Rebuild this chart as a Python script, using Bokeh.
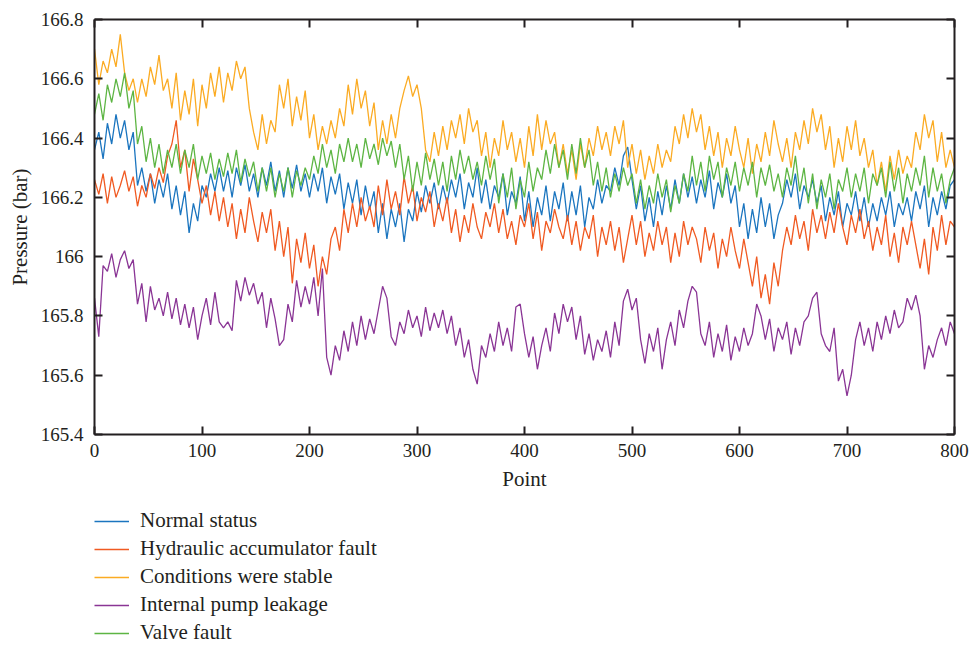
from bokeh.plotting import figure
from bokeh.layouts import column
from bokeh.models import FixedTicker, LinearAxis, Legend, LegendItem, Range1d
from bokeh.embed import file_html
from bokeh.resources import INLINE

x_points = list(range(0, 801, 4))

normal_status = [
    166.36, 166.42, 166.33, 166.45, 166.38, 166.48, 166.40, 166.46, 166.36, 166.42,
    166.24, 166.30, 166.22, 166.28, 166.18, 166.26, 166.20, 166.28, 166.16, 166.24,
    166.14, 166.22, 166.08, 166.18, 166.12, 166.24, 166.20, 166.28, 166.22, 166.30,
    166.22, 166.29, 166.20, 166.30, 166.24, 166.31, 166.22, 166.28, 166.20, 166.30,
    166.24, 166.32, 166.22, 166.29, 166.20, 166.30, 166.23, 166.31, 166.22, 166.28,
    166.20, 166.28, 166.22, 166.30, 166.18, 166.27, 166.21, 166.28, 166.16, 166.25,
    166.18, 166.26, 166.14, 166.24, 166.16, 166.22, 166.08, 166.18, 166.06, 166.16,
    166.10, 166.18, 166.05, 166.16, 166.12, 166.22, 166.15, 166.24, 166.18, 166.25,
    166.16, 166.24, 166.18, 166.26, 166.20, 166.28, 166.16, 166.25, 166.20, 166.30,
    166.18, 166.26, 166.16, 166.24, 166.20, 166.28, 166.14, 166.22, 166.18, 166.27,
    166.12, 166.22, 166.10, 166.20, 166.14, 166.24, 166.12, 166.22, 166.16, 166.25,
    166.12, 166.22, 166.14, 166.24, 166.10, 166.20, 166.16, 166.26, 166.18, 166.24,
    166.22, 166.30, 166.24, 166.34, 166.37, 166.26, 166.16, 166.24, 166.12, 166.20,
    166.10, 166.22, 166.14, 166.24, 166.16, 166.26, 166.18, 166.28, 166.20, 166.27,
    166.18, 166.26, 166.20, 166.29, 166.16, 166.25, 166.20, 166.28, 166.18, 166.24,
    166.10, 166.18, 166.06, 166.16, 166.08, 166.20, 166.10, 166.18, 166.06, 166.14,
    166.18, 166.26, 166.20, 166.28, 166.16, 166.24, 166.20, 166.26, 166.18, 166.24,
    166.12, 166.20, 166.14, 166.22, 166.10, 166.18, 166.14, 166.22, 166.12, 166.20,
    166.10, 166.18, 166.12, 166.20, 166.14, 166.22, 166.10, 166.18, 166.14, 166.20,
    166.12, 166.22, 166.16, 166.24, 166.10, 166.20, 166.14, 166.22, 166.16, 166.24,
    166.26,
]

hydraulic_accumulator_fault = [
    166.26, 166.21, 166.28, 166.18, 166.27, 166.20, 166.24, 166.29, 166.22, 166.27,
    166.17, 166.24, 166.20, 166.28, 166.23, 166.30, 166.25, 166.34, 166.38, 166.46,
    166.30, 166.36, 166.22, 166.33, 166.26, 166.18, 166.24, 166.14, 166.22, 166.12,
    166.20, 166.10, 166.18, 166.06, 166.16, 166.08, 166.20, 166.12, 166.05, 166.15,
    166.08, 166.16, 166.02, 166.12, 166.00, 166.10, 165.91, 166.06, 165.98, 166.08,
    165.96, 166.04, 165.90, 166.00, 165.94, 166.06, 166.10, 166.02, 166.16, 166.08,
    166.18, 166.10, 166.20, 166.12, 166.17, 166.10, 166.24, 166.14, 166.26, 166.16,
    166.22, 166.14, 166.27, 166.18, 166.24, 166.12, 166.20, 166.15, 166.22, 166.10,
    166.18, 166.12, 166.20, 166.08, 166.16, 166.05, 166.14, 166.08, 166.18, 166.10,
    166.06, 166.15, 166.10, 166.18, 166.08, 166.16, 166.06, 166.12, 166.04, 166.14,
    166.10, 166.18, 166.06, 166.15, 166.02, 166.12, 166.08, 166.16, 166.10, 166.06,
    166.14, 166.04, 166.12, 166.02, 166.10, 166.06, 166.14, 166.00, 166.10, 166.04,
    166.12, 166.02, 166.10, 165.98, 166.06, 166.14, 166.04, 166.12, 166.00, 166.08,
    166.02, 166.12, 166.04, 166.10, 165.98, 166.08, 166.00, 166.12, 166.04, 166.10,
    166.06, 165.98, 166.10, 166.02, 166.08, 165.96, 166.06, 166.00, 166.10, 166.02,
    165.96, 166.06, 165.98, 165.90, 166.00, 165.86, 165.94, 165.84, 165.98, 165.90,
    166.02, 166.10, 166.04, 166.14, 166.06, 166.12, 166.02, 166.16, 166.08, 166.14,
    166.06, 166.15, 166.08, 166.18, 166.10, 166.04, 166.14, 166.08, 166.16, 166.06,
    166.12, 166.02, 166.10, 166.04, 166.14, 166.00, 166.08, 165.98, 166.10, 166.04,
    166.12, 166.04, 165.96, 166.06, 165.94, 166.10, 166.02, 166.14, 166.04, 166.12,
    166.10,
]

conditions_stable = [
    166.70, 166.58, 166.66, 166.62, 166.70, 166.64, 166.75, 166.62, 166.56, 166.60,
    166.52, 166.60, 166.54, 166.64, 166.58, 166.68, 166.56, 166.60, 166.50, 166.62,
    166.46, 166.56, 166.48, 166.60, 166.44, 166.58, 166.50, 166.62, 166.54, 166.64,
    166.52, 166.62, 166.56, 166.66, 166.60, 166.64, 166.50, 166.42, 166.36, 166.48,
    166.38, 166.46, 166.42, 166.58, 166.50, 166.60, 166.44, 166.54, 166.46, 166.56,
    166.40, 166.48, 166.36, 166.44, 166.38, 166.46, 166.40, 166.50, 166.44, 166.58,
    166.48, 166.60, 166.50, 166.56, 166.44, 166.52, 166.36, 166.46, 166.38, 166.48,
    166.40, 166.50, 166.56, 166.61, 166.54, 166.58, 166.50, 166.36, 166.32, 166.42,
    166.34, 166.44, 166.36, 166.46, 166.40, 166.48, 166.38, 166.50, 166.42, 166.46,
    166.34, 166.42, 166.30, 166.40, 166.34, 166.46, 166.36, 166.42, 166.32, 166.40,
    166.30, 166.44, 166.34, 166.48, 166.36, 166.46, 166.38, 166.42, 166.30, 166.38,
    166.28, 166.36, 166.26, 166.38, 166.30, 166.40, 166.34, 166.44, 166.36, 166.42,
    166.34, 166.44, 166.38, 166.46, 166.30, 166.38, 166.28, 166.36, 166.26, 166.34,
    166.28, 166.38, 166.30, 166.36, 166.32, 166.44, 166.38, 166.48, 166.40, 166.50,
    166.42, 166.48, 166.36, 166.44, 166.34, 166.42, 166.30, 166.40, 166.34, 166.44,
    166.36, 166.30, 166.40, 166.28, 166.38, 166.32, 166.42, 166.34, 166.46, 166.38,
    166.32, 166.40, 166.30, 166.42, 166.36, 166.46, 166.38, 166.50, 166.42, 166.48,
    166.36, 166.44, 166.30, 166.40, 166.32, 166.44, 166.36, 166.46, 166.34, 166.40,
    166.30, 166.36, 166.24, 166.32, 166.22, 166.34, 166.26, 166.36, 166.28, 166.34,
    166.30, 166.42, 166.36, 166.48, 166.40, 166.46, 166.32, 166.42, 166.30, 166.36,
    166.30,
]

internal_pump_leakage = [
    165.86, 165.73, 165.97, 165.95, 166.01, 165.93, 165.99, 166.02, 165.96, 165.99,
    165.84, 165.91, 165.78, 165.90, 165.82, 165.86, 165.80, 165.88, 165.79, 165.86,
    165.77, 165.84, 165.76, 165.83, 165.72, 165.80, 165.86, 165.77, 165.88, 165.78,
    165.76, 165.78, 165.75, 165.92, 165.85, 165.93, 165.87, 165.91, 165.84, 165.88,
    165.76, 165.86, 165.79, 165.70, 165.72, 165.84, 165.78, 165.92, 165.83, 165.90,
    165.84, 165.93, 165.80, 165.96, 165.66, 165.60, 165.70, 165.65, 165.75, 165.68,
    165.78, 165.70, 165.80, 165.72, 165.79, 165.74, 165.82, 165.90, 165.86, 165.73,
    165.70, 165.78, 165.74, 165.82, 165.76, 165.80, 165.73, 165.83, 165.75, 165.81,
    165.76, 165.82, 165.74, 165.80, 165.70, 165.76, 165.66, 165.72, 165.62, 165.57,
    165.70, 165.66, 165.74, 165.68, 165.78, 165.70, 165.76, 165.68, 165.83, 165.84,
    165.74, 165.66, 165.73, 165.62, 165.70, 165.76, 165.68, 165.81, 165.74, 165.84,
    165.78, 165.83, 165.72, 165.80, 165.67, 165.74, 165.65, 165.72, 165.68, 165.75,
    165.66, 165.78, 165.70, 165.85, 165.89, 165.82, 165.86, 165.72, 165.64, 165.74,
    165.68, 165.76, 165.62, 165.72, 165.78, 165.70, 165.82, 165.76, 165.85, 165.90,
    165.88, 165.74, 165.70, 165.78, 165.66, 165.74, 165.68, 165.77, 165.65, 165.73,
    165.68, 165.76, 165.70, 165.74, 165.84, 165.80, 165.72, 165.79, 165.68, 165.76,
    165.72, 165.78, 165.67, 165.76, 165.70, 165.78, 165.80, 165.86, 165.88, 165.74,
    165.70, 165.68, 165.76, 165.58, 165.62, 165.53, 165.60, 165.72, 165.78, 165.70,
    165.76, 165.68, 165.78, 165.72, 165.80, 165.74, 165.82, 165.76, 165.78, 165.86,
    165.82, 165.87, 165.80, 165.62, 165.70, 165.66, 165.72, 165.76, 165.70, 165.78,
    165.74,
]

valve_fault = [
    166.48, 166.55, 166.46, 166.58, 166.52, 166.60, 166.54, 166.62, 166.50, 166.56,
    166.38, 166.44, 166.32, 166.40, 166.30, 166.38, 166.28, 166.36, 166.30, 166.38,
    166.28, 166.36, 166.30, 166.38, 166.26, 166.34, 166.28, 166.35, 166.26, 166.33,
    166.27, 166.35, 166.28, 166.36, 166.25, 166.33, 166.27, 166.32, 166.22, 166.30,
    166.22, 166.30, 166.20, 166.28, 166.22, 166.30, 166.20, 166.29, 166.24, 166.30,
    166.26, 166.34, 166.28, 166.38, 166.30, 166.36, 166.28, 166.38, 166.32, 166.40,
    166.32, 166.38, 166.30, 166.40, 166.33, 166.38, 166.31, 166.40, 166.34, 166.39,
    166.30, 166.38, 166.26, 166.34, 166.22, 166.32, 166.24, 166.35, 166.26, 166.33,
    166.24, 166.32, 166.22, 166.34, 166.26, 166.36, 166.28, 166.34, 166.26, 166.32,
    166.24, 166.34, 166.26, 166.33, 166.18, 166.28, 166.20, 166.30, 166.16, 166.26,
    166.20, 166.32, 166.22, 166.30, 166.26, 166.36, 166.28, 166.38, 166.30, 166.36,
    166.26, 166.38, 166.28, 166.40, 166.30, 166.36, 166.24, 166.32, 166.22, 166.30,
    166.20, 166.28, 166.22, 166.30, 166.24, 166.28, 166.18, 166.26, 166.16, 166.24,
    166.18, 166.28, 166.20, 166.26, 166.15, 166.24, 166.18, 166.28, 166.22, 166.34,
    166.24, 166.32, 166.22, 166.34, 166.26, 166.32, 166.20, 166.30, 166.24, 166.32,
    166.22, 166.30, 166.24, 166.32, 166.20, 166.30, 166.24, 166.31, 166.22, 166.28,
    166.20, 166.30, 166.24, 166.34, 166.22, 166.30, 166.18, 166.28, 166.16, 166.26,
    166.20, 166.28, 166.16, 166.26, 166.22, 166.30, 166.20, 166.28, 166.22, 166.30,
    166.18, 166.28, 166.24, 166.30, 166.20, 166.32, 166.22, 166.30, 166.18, 166.28,
    166.22, 166.30, 166.24, 166.34, 166.20, 166.30, 166.22, 166.28, 166.18, 166.26,
    166.30,
]

series_names = ["Normal status", "Hydraulic accumulator fault", "Conditions were stable",
                "Internal pump leakage", "Valve fault"]
series_values = [normal_status, hydraulic_accumulator_fault, conditions_stable,
                 internal_pump_leakage, valve_fault]
series_colors = ["#1b75bf", "#f05a22", "#fbab23", "#8a3595", "#5db543"]

x_ticks = [0, 100, 200, 300, 400, 500, 600, 700, 800]
y_ticks = [165.4, 165.6, 165.8, 166.0, 166.2, 166.4, 166.6, 166.8]
y_tick_labels = {165.4: "165.4", 165.6: "165.6", 165.8: "165.8", 166.0: "166",
                 166.2: "166.2", 166.4: "166.4", 166.6: "166.6", 166.8: "166.8"}

FONT = "Liberation Serif"
INK = "#231f20"

p = figure(width=972, height=504, output_backend="svg", toolbar_location=None,
           x_range=Range1d(0, 800), y_range=Range1d(165.4, 166.8),
           min_border_left=94, min_border_right=18, min_border_top=19,
           min_border_bottom=70, outline_line_color=None)
p.xgrid.visible = False
p.ygrid.visible = False

for vals, col in zip(series_values, series_colors):
    p.line(x_points, vals, line_color=col, line_width=1.3)


def style_axis(ax, labels=True):
    ax.axis_line_color = INK
    ax.axis_line_width = 2
    ax.major_tick_line_color = INK
    ax.major_tick_line_width = 2
    ax.major_tick_in = 8
    ax.major_tick_out = 0
    ax.minor_tick_line_color = None
    ax.major_label_text_font = FONT
    ax.major_label_text_color = INK
    ax.major_label_text_font_size = "19px"
    if labels:
        ax.axis_label_text_font = FONT
        ax.axis_label_text_font_style = "normal"
        ax.axis_label_text_font_size = "21px"
        ax.axis_label_text_color = INK


xax = p.xaxis[0]
xax.ticker = FixedTicker(ticks=x_ticks)
xax.axis_label = "Point"
xax.major_label_standoff = 9
xax.axis_label_standoff = 7
style_axis(xax)

yax = p.yaxis[0]
yax.ticker = FixedTicker(ticks=y_ticks)
yax.major_label_overrides = y_tick_labels
yax.axis_label = "Pressure (bar)"
yax.major_label_standoff = 11
yax.axis_label_standoff = 6
style_axis(yax)

top_ax = LinearAxis(ticker=FixedTicker(ticks=x_ticks),
                    major_label_overrides={t: "" for t in x_ticks})
style_axis(top_ax, labels=False)
top_ax.major_label_standoff = 0
p.add_layout(top_ax, "above")
right_ax = LinearAxis(ticker=FixedTicker(ticks=y_ticks),
                      major_label_overrides={t: "" for t in y_ticks})
style_axis(right_ax, labels=False)
right_ax.major_label_standoff = 0
p.add_layout(right_ax, "right")

# legend panel below the plot; its lines carry the same series but lie outside
# this panel's (0..1) view, so only their legend swatches are seen
lg = figure(width=972, height=142, output_backend="svg", toolbar_location=None,
            x_range=Range1d(0, 1), y_range=Range1d(0, 1),
            x_axis_type=None, y_axis_type=None, outline_line_color=None,
            min_border_left=93, min_border_right=0, min_border_top=4,
            min_border_bottom=0)
lg.xgrid.visible = False
lg.ygrid.visible = False
items = []
for name, vals, col in zip(series_names, series_values, series_colors):
    r = lg.line(x_points, vals, line_color=col, line_width=1.3)
    items.append(LegendItem(label=name, renderers=[r]))
legend = Legend(items=items, location="top_left", orientation="vertical",
                label_text_font=FONT, label_text_font_size="21px", label_text_color=INK,
                glyph_width=35, glyph_height=20, label_height=20, label_standoff=11,
                spacing=3, padding=0, margin=0, border_line_color=None,
                background_fill_alpha=0)
lg.add_layout(legend, "center")

layout = column(p, lg, spacing=0)

with open("out.html", "w") as f:
    f.write(file_html(layout, INLINE))
